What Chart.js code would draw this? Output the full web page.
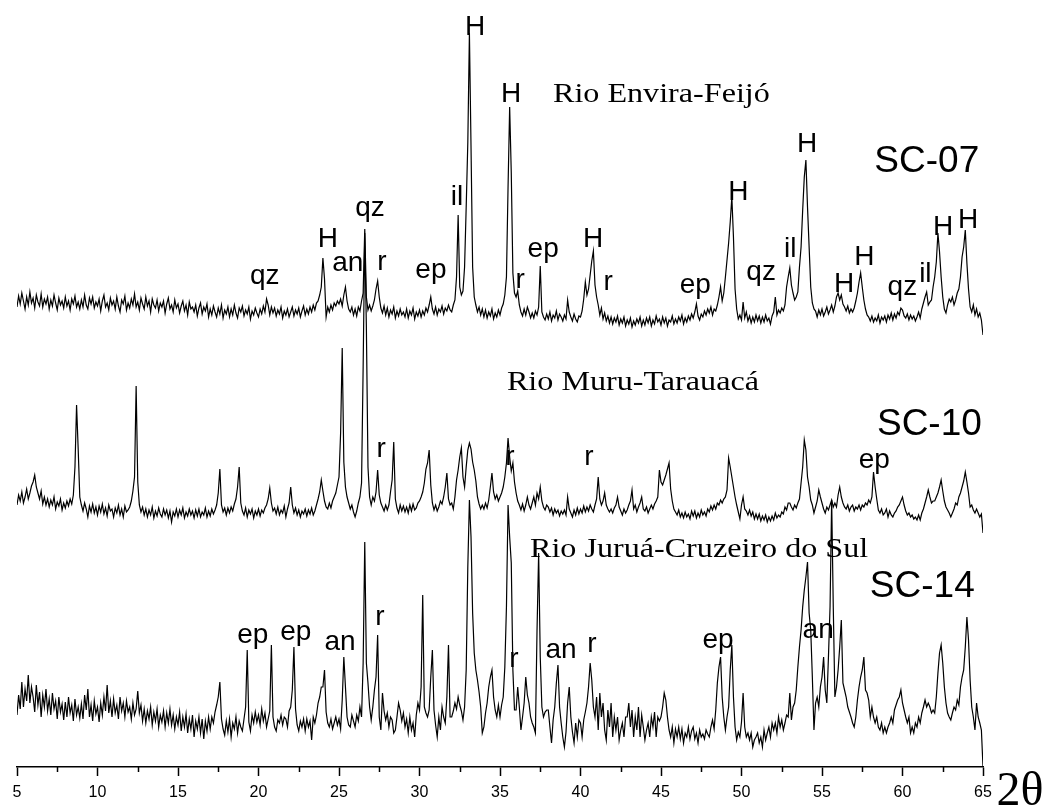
<!DOCTYPE html>
<html>
<head>
<meta charset="utf-8">
<script src="https://cdn.jsdelivr.net/npm/chart.js@4"></script>
<style>
  body { margin: 0; background: #fff; }
  canvas { display: block; }
</style>
</head>
<body>
<canvas id="myChart" width="1043" height="806"></canvas>
<script>
// 2theta grid, 5 to 65 in 0.1 deg steps (601 points)
const twoTheta = Array.from({ length: 601 }, (_, i) => 5 + i / 10);

// intensities (offset counts), one row per degree
const sc07 = [
  460,471,463,474,466,458,470,462,475,464, 469,459,472,465,461,473,460,468,463,470,
  458,467,461,472,464,457,469,462,466,459, 470,461,466,457,468,463,471,460,465,458,
  467,460,472,462,458,469,463,470,459,465, 461,468,456,466,472,460,464,457,469,462,
  466,458,470,461,455,467,463,471,457,464, 459,468,462,473,460,465,457,469,463,458,
  470,461,466,455,468,462,459,467,456,464, 460,466,454,463,469,458,462,455,467,459,
  463,454,461,466,456,462,452,465,458,460, 455,462,451,459,464,453,460,456,463,450,
  458,452,461,455,450,459,453,462,449,457, 453,460,450,458,452,462,454,449,459,455,
  461,451,457,453,460,448,456,452,459,454, 450,458,453,461,455,468,462,452,460,454,
  459,451,457,453,460,449,456,452,458,450, 455,460,451,457,453,459,450,456,461,452,
  458,453,460,455,462,457,464,466,472,480, 509,488,450,460,455,462,457,464,461,466,
  463,468,461,472,480,466,458,455,460,452, 458,451,460,456,466,474,538,470,457,462,
  456,461,467,478,486,470,459,454,461,452, 459,450,457,453,460,449,456,451,458,452,
  455,450,458,449,456,452,459,448,455,451, 457,450,456,452,459,455,462,470,458,453,
  460,452,458,455,461,453,459,456,462,457, 455,462,467,490,552,480,472,476,500,560,
  624,734,620,500,470,462,455,460,452,458, 450,457,449,455,451,458,448,454,450,457,
  452,459,463,472,490,580,660,594,494,474, 470,476,462,455,451,458,452,460,455,449,
  454,449,456,452,460,501,455,450,447,453, 448,455,446,452,449,456,447,453,450,446,
  452,448,467,455,450,446,453,448,445,451, 450,456,468,485,472,478,492,506,516,482,
  470,462,452,459,448,454,446,451,444,450, 443,449,445,451,442,448,444,450,441,447,
  443,449,440,446,442,448,444,450,441,447, 442,449,444,450,441,447,443,451,445,448,
  442,450,444,449,441,447,445,451,443,448, 444,450,446,452,443,449,445,451,447,453,
  449,455,463,451,447,453,450,456,452,458, 454,460,452,458,456,462,470,480,466,474,
  490,507,524,545,570,530,478,458,448,452, 447,465,449,455,446,451,444,450,445,452,
  446,451,444,450,445,452,446,449,443,451, 455,470,452,457,454,459,456,462,480,490,
  499,482,474,467,470,475,500,520,557,590, 607,560,520,480,464,458,456,450,457,452,
  458,451,455,460,453,457,462,455,461,470, 474,467,472,463,460,456,461,454,458,455,
  459,466,474,485,494,480,467,458,452,450, 446,451,445,449,446,452,444,450,447,451,
  445,452,448,454,447,453,449,455,452,459, 457,451,449,453,447,452,448,451,446,450,
  455,449,458,464,470,475,462,465,467,480, 490,505,534,515,490,470,458,454,462,468,
  465,470,462,467,474,478,490,510,520,537, 504,478,460,455,462,452,458,450,454,447,
  432
];

const sc10 = [
  262,272,266,275,264,270,278,268,274,281, 285,292,280,274,268,276,263,270,262,268,
  260,267,262,270,258,265,261,268,257,264, 259,266,261,268,263,272,300,362,318,270,
  262,256,264,258,250,261,255,263,254,260, 252,261,255,263,253,259,251,262,256,258,
  250,259,254,262,252,258,250,261,255,257, 260,266,276,290,381,285,262,255,260,252,
  258,250,257,252,260,249,256,251,259,253, 250,258,252,257,249,256,245,255,251,258,
  250,257,252,259,249,255,251,258,252,256, 249,257,251,258,250,255,252,259,250,256,
  251,258,253,257,262,274,298,262,255,259, 252,259,254,260,256,263,268,280,300,264,
  256,252,259,250,257,253,258,249,256,252, 258,251,257,254,259,262,268,279,264,256,
  259,253,260,252,257,254,261,250,258,264, 280,262,254,259,252,257,250,256,253,258,
  251,257,253,259,252,256,262,268,275,287, 276,266,260,258,264,259,266,270,274,282,
  290,334,419,305,280,270,264,258,262,255, 250,256,264,270,284,400,534,440,300,270,
  262,270,266,275,297,272,264,260,256,262, 257,262,275,287,325,268,259,254,262,256,
  261,255,260,254,262,256,263,257,259,264, 266,270,275,284,298,304,317,282,264,257,
  262,256,260,266,263,270,280,294,268,262, 264,258,270,287,297,310,319,290,280,300,
  317,324,318,305,297,286,270,263,258,262, 258,264,259,267,280,294,275,268,272,266,
  270,274,280,290,304,329,310,296,304,285, 274,266,262,257,263,256,262,270,262,258,
  264,270,262,274,268,280,266,260,257,262, 260,255,259,252,258,254,257,251,256,253,
  257,252,270,258,254,250,257,252,259,253, 258,254,261,255,260,256,262,258,255,262,
  268,290,268,262,266,274,262,258,255,258, 254,259,262,270,260,256,252,258,254,257,
  262,266,277,258,262,255,260,264,270,258, 256,260,254,258,262,258,263,266,270,297,
  285,282,287,292,298,304,278,266,258,255, 252,257,250,254,249,255,250,253,248,256,
  251,256,249,254,250,257,252,255,251,258, 255,261,257,262,258,264,262,267,264,268,
  270,277,309,300,290,280,270,262,255,248, 262,270,258,256,252,257,251,255,248,253,
  248,253,246,251,247,252,245,250,246,251, 247,254,249,252,250,255,253,260,257,264,
  264,260,257,262,259,264,268,284,300,327, 317,290,280,267,262,254,260,266,277,270,
  264,258,254,260,257,262,267,260,264,260, 272,280,270,264,260,258,262,256,260,262,
  256,260,258,262,257,262,260,264,262,267, 264,270,295,280,268,257,254,258,252,254,
  258,250,256,252,250,254,256,260,262,266, 270,262,256,252,254,250,252,248,250,247,
  252,247,254,258,264,270,277,270,264,266, 266,270,274,280,287,276,266,260,257,254,
  250,254,258,264,262,270,274,280,286,295, 285,274,260,262,257,254,258,254,250,253,
  234
];

const sc14 = [
  52,72,58,85,60,78,66,92,64,80, 70,55,82,62,75,50,72,60,78,56,
  68,52,74,58,66,48,70,55,63,47, 65,50,70,54,62,46,68,52,60,49,
  63,48,72,57,78,50,62,46,66,53, 60,45,64,52,70,56,82,54,66,50,
  68,54,62,48,70,56,64,50,66,55, 60,48,64,52,58,76,54,62,46,58,
  44,56,48,60,42,55,46,58,40,52, 45,56,40,54,44,58,42,52,38,50,
  42,55,36,50,40,53,34,48,38,52, 30,46,38,50,34,48,28,46,36,50,
  38,50,44,55,62,70,85,48,38,32, 46,35,48,30,44,38,50,34,46,40,
  36,48,60,117,45,36,52,44,55,45, 52,42,58,46,54,40,48,56,122,50,
  40,36,47,44,52,42,50,48,40,56, 60,77,120,58,42,36,46,40,48,36,
  48,40,46,27,50,44,52,64,70,80, 80,97,55,44,40,48,38,44,50,42,
  48,38,67,110,80,50,42,40,52,46, 40,52,46,60,50,104,225,104,84,60,
  47,60,77,90,132,50,37,74,56,47, 54,40,50,47,34,37,50,64,57,46,
  54,40,48,34,50,37,44,30,52,64, 57,80,172,60,54,50,57,90,117,57,
  42,30,50,37,60,50,44,70,122,50, 50,56,64,58,70,62,56,47,60,97,
  200,267,230,154,114,97,87,75,60,34, 40,54,64,80,90,97,70,57,50,62,
  50,62,70,100,160,262,230,204,97,57, 57,80,60,37,50,64,90,72,64,50,
  44,40,34,137,214,110,60,50,55,57, 57,40,24,47,60,84,102,60,44,30,
  20,35,64,80,50,35,24,44,30,47, 44,30,47,55,64,80,104,87,60,50,
  70,37,74,50,64,37,27,57,40,64, 30,50,37,50,27,37,44,30,50,50,
  64,40,57,30,50,37,60,30,52,40, 27,37,44,30,50,40,55,30,50,46,
  50,60,74,67,50,37,30,40,24,38, 30,40,28,38,24,34,30,40,28,36,
  40,28,34,24,37,30,33,28,37,33, 30,40,47,38,57,84,100,110,70,50,
  37,50,60,97,122,70,40,27,35,30, 45,74,40,30,34,27,34,20,27,30,
  34,24,30,20,37,27,34,40,30,44, 37,44,34,50,40,47,37,44,52,50,
  74,47,60,64,77,100,120,137,160,177, 190,205,154,137,90,37,64,70,60,80,
  90,110,77,64,110,160,267,160,70,80, 97,120,147,84,77,70,60,55,50,44,
  40,50,67,80,90,97,110,77,74,67, 50,60,50,44,50,40,37,44,34,40,
  34,40,44,50,44,57,62,67,70,77, 64,57,50,44,50,34,40,34,44,40,
  50,44,54,60,67,60,64,60,54,57, 54,70,94,114,122,104,80,64,54,50,
  47,54,60,57,67,62,80,90,97,120, 150,127,87,60,50,37,64,50,44,37,
  0
];

// phase labels: [2theta, counts at text baseline, text]
const sc07Phases = [[20.39,483,'qz'],[24.31,520,'H'],[25.55,496,'an'],[26.92,551,'qz'],[27.67,497,'r'],[30.71,489,'ep'],[32.33,562,'il'],[33.45,732,'H'],[35.69,665,'H'],[36.25,479,'r'],[37.68,510,'ep'],[40.79,520,'H'],[41.72,477,'r'],[47.13,474,'ep'],[49.8,567,'H'],[51.22,487,'qz'],[53.03,510,'il'],[54.08,615,'H'],[56.38,475,'H'],[57.63,502,'H'],[59.99,472,'qz'],[61.42,485,'il'],[62.53,532,'H'],[64.08,539,'H']];
const sc10Phases = [[27.62,310,'r'],[35.62,302,'r'],[40.53,302,'r'],[58.25,299,'ep']];
const sc14Phases = [[19.65,124,'ep'],[22.32,127,'ep'],[25.06,117,'an'],[27.54,142,'r'],[35.87,100,'r'],[38.79,109,'an'],[40.71,115,'r'],[48.54,119,'ep'],[54.76,129,'an']];

const sampleNames = [[61.51,595,'SC-07'],[61.67,332,'SC-10'],[61.23,170,'SC-14']];
const riverNames = [[38.29,665,'Rio Envira-Feijó'],[35.43,377,'Rio Muru-Tarauacá'],[36.86,210,'Rio Juruá-Cruzeiro do Sul']];

const minorTicks = [7.5,12.5,17.5,22.5,27.5,32.5,37.5,42.5,47.5,52.5,57.5,62.5];

const sans = '"Liberation Sans", Arial, sans-serif';
const serif = '"Liberation Serif", "Times New Roman", serif';

const annotate = {
  id: 'annotate',
  afterDraw(chart) {
    const { ctx, chartArea, scales: { x, y } } = chart;
    ctx.save();
    ctx.fillStyle = '#000';
    ctx.strokeStyle = '#000';
    ctx.textAlign = 'center';
    ctx.textBaseline = 'alphabetic';

    // minor ticks on the 2theta axis
    ctx.lineWidth = 1.5;
    minorTicks.forEach(v => {
      const px = Math.round(x.getPixelForValue(v)) + 0.5;
      ctx.beginPath();
      ctx.moveTo(px, chartArea.bottom);
      ctx.lineTo(px, chartArea.bottom + 5);
      ctx.stroke();
    });

    ctx.font = '28px ' + sans;
    [...sc07Phases, ...sc10Phases, ...sc14Phases].forEach(([v, i, t]) => {
      ctx.fillText(t, x.getPixelForValue(v), y.getPixelForValue(i));
    });

    ctx.font = '37px ' + sans;
    sampleNames.forEach(([v, i, t]) => {
      ctx.fillText(t, x.getPixelForValue(v), y.getPixelForValue(i));
    });

    // river names: serif, drawn a bit wide like the source
    ctx.font = '27px ' + serif;
    ctx.textAlign = 'left';
    riverNames.forEach(([v, i, t]) => {
      ctx.save();
      ctx.translate(x.getPixelForValue(v), y.getPixelForValue(i));
      ctx.scale(1.19, 1);
      ctx.fillText(t, 0, 0);
      ctx.restore();
    });

    // axis title
    ctx.font = '48px ' + serif;
    ctx.textAlign = 'center';
    ctx.fillText('2θ', chartArea.right + 37, chartArea.bottom + 38);
    ctx.restore();
  }
};

const line = (values) => ({
  data: values.map((v, i) => ({ x: twoTheta[i], y: v })),
  borderColor: '#000',
  borderWidth: 1.2,
  pointRadius: 0,
  fill: false,
  tension: 0
});

new Chart(document.getElementById('myChart'), {
  type: 'line',
  data: { datasets: [line(sc07), line(sc10), line(sc14)] },
  options: {
    responsive: false,
    animation: false,
    devicePixelRatio: 1,
    layout: { padding: { left: 17, right: 60, top: 7, bottom: 0 } },
    plugins: { legend: { display: false }, tooltip: { enabled: false } },
    scales: {
      x: {
        type: 'linear',
        min: 5,
        max: 65,
        afterFit: (scale) => { scale.height = 39; },
        ticks: { stepSize: 5, color: '#000', font: { family: sans, size: 16 }, padding: 7, maxRotation: 0 },
        grid: { drawOnChartArea: false, tickLength: 9, tickWidth: 1.5, tickColor: '#000' },
        border: { color: '#000', width: 1.5 }
      },
      y: { display: false, min: 0, max: 760 }
    }
  },
  plugins: [annotate]
});
</script>
</body>
</html>
